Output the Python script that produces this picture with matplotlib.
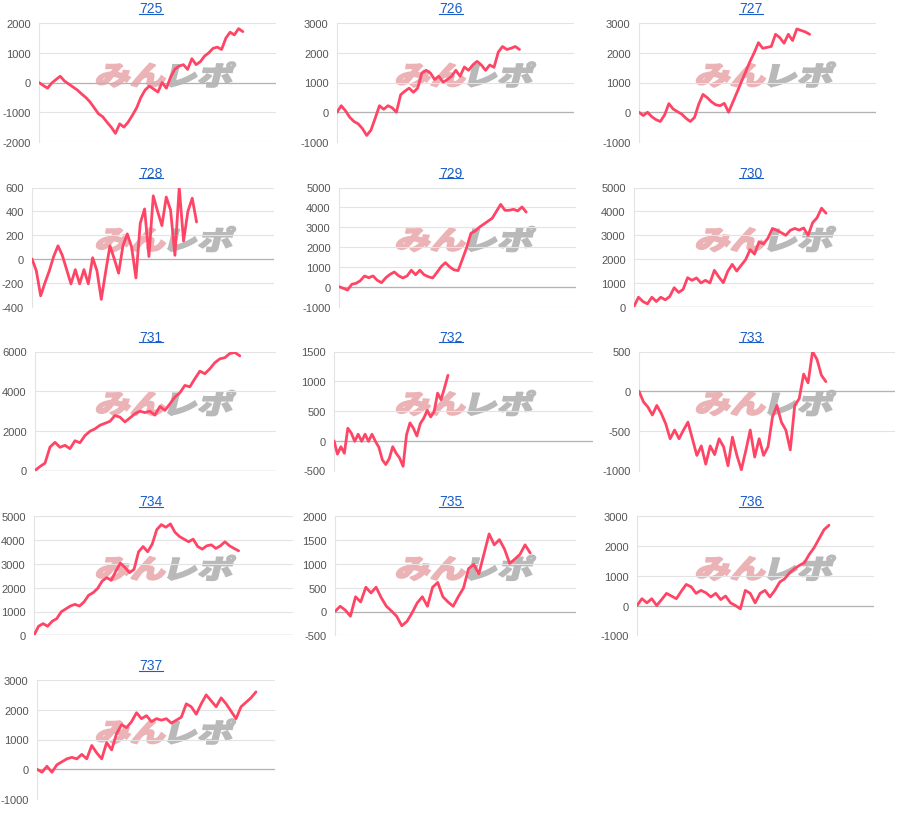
import matplotlib
matplotlib.use('Agg')
import matplotlib.pyplot as plt
from matplotlib.textpath import TextPath
from matplotlib.font_manager import FontProperties
from matplotlib.patches import PathPatch
from matplotlib.transforms import Affine2D, IdentityTransform
from matplotlib.lines import Line2D

plt.rcParams['font.family'] = ['Liberation Sans', 'DejaVu Sans']

# ---------------- data ----------------
titles = ["725", "726", "727", "728", "729", "730", "731",
          "732", "733", "734", "735", "736", "737"]

s725 = [0, -100, -190, -20, 100, 210, 50, -50, -150, -250, -380, -500, -650, -850,
        -1050, -1150, -1330, -1500, -1710, -1390, -1500, -1330, -1100, -850, -500,
        -250, -120, -220, -320, 0, -190, 180, 450, 550, 600, 440, 800, 600, 700, 890,
        1000, 1150, 1190, 1110, 1490, 1690, 1600, 1810, 1710]
s726 = [0, 220, 50, -170, -310, -390, -550, -780, -600, -200, 220, 100, 220, 150, 0,
        590, 710, 810, 670, 810, 1320, 1410, 1320, 1100, 1210, 1010, 1100, 1210, 1410,
        1210, 1520, 1410, 1590, 1710, 1590, 1410, 1590, 1510, 2020, 2210, 2110, 2150,
        2210, 2110]
s727 = [0, -110, 0, -150, -250, -310, -90, 290, 110, 20, -60, -200, -310, -180, 270,
        600, 490, 350, 250, 220, 300, 0, 340, 680, 1020, 1360, 1700, 2000, 2340, 2150,
        2180, 2210, 2620, 2510, 2320, 2620, 2410, 2800, 2750, 2700, 2620]
s728 = [0, -100, -310, -200, -100, 20, 110, 30, -90, -210, -90, -210, -90, -210, 10,
        -100, -340, -110, 110, 0, -120, 110, 210, 100, -160, 300, 420, 20, 530, 400,
        280, 520, 410, 30, 600, 150, 400, 510, 310]
s729 = [0, -80, -170, 120, 170, 300, 540, 450, 540, 320, 200, 450, 620, 740, 550, 440,
        540, 830, 600, 830, 600, 500, 440, 710, 1010, 1210, 1000, 850, 810, 1380, 1970,
        2690, 2810, 3000, 3150, 3300, 3450, 3800, 4150, 3850, 3850, 3900, 3820, 4020,
        3760]
s730 = [0, 390, 210, 110, 390, 210, 390, 280, 420, 790, 590, 720, 1210, 1100, 1200,
        990, 1100, 990, 1520, 1240, 1000, 1480, 1770, 1490, 1730, 1970, 2390, 2200,
        2720, 2630, 2870, 3280, 3200, 3100, 2990, 3200, 3280, 3210, 3300, 2990, 3520,
        3730, 4130, 3920]
s731 = [0, 200, 370, 1180, 1420, 1170, 1270, 1100, 1500, 1400, 1760, 1980, 2100, 2280,
        2380, 2480, 2770, 2690, 2450, 2650, 2860, 2990, 2920, 2990, 2790, 3230, 3030,
        3360, 3700, 3920, 4290, 4220, 4630, 5010, 4880, 5130, 5440, 5630, 5690, 5900,
        5950, 5780]
s732 = [0, -225, -100, -210, 210, 130, -10, 110, -10, 110, -10, 110, -10, -110, -320,
        -400, -300, -100, -210, -290, -430, 100, 300, 210, 80, 290, 380, 510, 400, 490,
        800, 690, 890, 1100]
s733 = [0, -135, -200, -300, -180, -280, -410, -600, -490, -600, -490, -390, -600, -810,
        -690, -920, -690, -800, -600, -700, -940, -580, -810, -990, -750, -490, -830,
        -600, -810, -700, -325, -180, -390, -490, -740, -180, -95, 215, 105, 500, 400,
        200, 120]
s734 = [0, 380, 490, 380, 590, 700, 990, 1110, 1230, 1300, 1230, 1400, 1680, 1790, 1970,
        2280, 2420, 2310, 2700, 3030, 2850, 2630, 2770, 3510, 3730, 3510, 3830, 4440,
        4650, 4540, 4680, 4330, 4150, 4040, 3930, 4040, 3730, 3620, 3760, 3800, 3650,
        3760, 3930, 3760, 3650, 3550]
s735 = [0, 110, 30, -100, 310, 200, 510, 390, 510, 290, 110, 10, -100, -300, -210, -30,
        180, 310, 110, 510, 610, 310, 200, 110, 310, 490, 900, 990, 790, 1210, 1630,
        1400, 1510, 1310, 1010, 1100, 1200, 1400, 1230]
s736 = [0, 230, 90, 230, 0, 200, 410, 320, 230, 480, 710, 630, 410, 510, 430, 290, 410,
        200, 320, 90, 0, -110, 510, 410, 90, 410, 510, 290, 510, 790, 900, 1100, 1240,
        1350, 1440, 1720, 1950, 2250, 2550, 2700]
s737 = [0, -100, 100, -100, 150, 250, 350, 400, 350, 500, 350, 800, 550, 350, 900, 650,
        1200, 1500, 1400, 1600, 1900, 1700, 1800, 1600, 1700, 1650, 1700, 1550, 1650,
        1750, 2200, 2100, 1850, 2200, 2500, 2300, 2100, 2400, 2200, 1950, 1700, 2100,
        2250, 2400, 2600]

series = [s725, s726, s727, s728, s729, s730, s731, s732, s733, s734, s735, s736, s737]

# y-axis (min, max, step)
y_axes = [(-2000, 2000, 1000), (-1000, 3000, 1000), (-1000, 3000, 1000),
          (-400, 600, 200), (-1000, 5000, 1000), (0, 5000, 1000),
          (0, 6000, 2000), (-500, 1500, 500), (-1000, 500, 500),
          (0, 5000, 1000), (-500, 2000, 500), (-1000, 3000, 1000),
          (-1000, 3000, 1000)]

# ---------------- layout (pixels) ----------------
W, H = 900, 820
row_tops = [24, 188.5, 352.5, 517.3, 681]
plot_h = 119
x_edges = [(39, 276), (337, 574), (639, 876),
           (32, 274), (339, 576), (634, 874),
           (35, 276), (334, 593), (639, 895),
           (34, 293), (335, 576), (637, 874),
           (37, 275)]
span = [0.86, 0.77, 0.72, 0.68, 0.79, 0.80, 0.85, 0.44, 0.73, 0.79, 0.81, 0.81, 0.92]

LINE = '#ff4566'
GRID = '#e3e3e3'
ZERO = '#b3b3b3'
TICK = '#555555'
TITLE = '#1a5fc8'

fig = plt.figure(figsize=(W / 100, H / 100), dpi=100)
fig.patch.set_facecolor('white')

wm_fp = FontProperties(family='Noto Sans CJK JP', weight='black')


def add_watermark(x_left, y_top):
    p1 = TextPath((0, 0), "みん", size=30, prop=wm_fp)
    p2 = TextPath((0, 0), "レポ", size=30, prop=wm_fp)
    e1 = p1.get_extents()
    e2 = p2.get_extents()
    sy = 25.0 / max(e1.height, e2.height)
    sx = sy * 1.33
    base_y = H - (y_top + 26)
    t1 = Affine2D().translate(-e1.x0, -e1.y0).scale(sx, sy).skew_deg(14, 0).translate(x_left, base_y)
    w1 = (e1.x1 - e1.x0) * sx
    t2 = Affine2D().translate(-e2.x0, -e2.y0).scale(sx, sy).skew_deg(14, 0).translate(x_left + w1 + 4, base_y)
    fig.add_artist(PathPatch(p1, transform=t1, facecolor='#ebb3b6', edgecolor='#ebb3b6',
                             linewidth=1.2, zorder=1.5))
    fig.add_artist(PathPatch(p2, transform=t2, facecolor='#b9b9b9', edgecolor='#b9b9b9',
                             linewidth=1.2, zorder=1.5))


title_texts = []
for i, vals in enumerate(series):
    row, col = divmod(i, 3)
    top = row_tops[row]
    x0, x1 = x_edges[i]
    ax = fig.add_axes([x0 / W, 1 - (top + plot_h) / H, (x1 - x0) / W, plot_h / H])
    ax.set_facecolor('none')
    lo, hi, step = y_axes[i]
    ax.set_ylim(lo, hi)
    ax.set_yticks(list(range(lo, hi + 1, step)))
    ax.set_yticklabels([str(v) for v in range(lo, hi + 1, step)])
    n = len(vals)
    ax.set_xlim(0, (n - 1) / span[i])
    ax.set_xticks([])
    ax.tick_params(axis='y', length=0, pad=6, labelsize=8, labelcolor=TICK)
    for s in ['top', 'right', 'bottom']:
        ax.spines[s].set_visible(False)
    ax.spines['left'].set_color(GRID)
    ax.spines['left'].set_linewidth(0.8)
    ax.grid(axis='y', color=GRID, linewidth=0.8)
    ax.set_axisbelow(True)
    ax.axhline(0, color=ZERO, linewidth=0.9, zorder=1)
    ax.plot(range(n), vals, color=LINE, linewidth=2.0, zorder=5,
            solid_joinstyle='round', solid_capstyle='round')
    ax.set_zorder(2)

    add_watermark(col * 300 + 95, top + 38)

    t = fig.text((col * 300 + 151) / W, 1 - (top - 15) / H, titles[i],
                 ha='center', va='center', fontsize=10, color=TITLE)
    title_texts.append(t)

fig.canvas.draw()
for t in title_texts:
    bb = t.get_window_extent()
    fig.add_artist(Line2D([bb.x0, bb.x1], [bb.y0 + 1.5, bb.y0 + 1.5],
                          transform=IdentityTransform(), color=TITLE, linewidth=0.8))

fig.savefig('out.png', dpi=100)
